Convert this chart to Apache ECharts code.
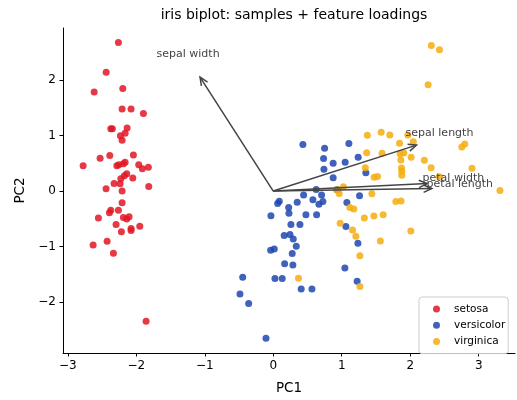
<!DOCTYPE html>
<html>
<head>
    <meta charset="utf-8">
    <script src="https://cdn.jsdelivr.net/npm/echarts@6/dist/echarts.min.js"></script>
    <style>
        html, body { margin: 0; padding: 0; background: #fff; }
    </style>
</head>
<body>
    <div id="main" style="width: 517px;height:400px;"></div>
    <script type="text/javascript">
        // PC scores, one [PC1, PC2] per sample
        var setosa = [
            [-2.261, 2.677], [-2.44, 2.144], [-2.615, 1.788], [-2.197, 1.849], [-2.207, 1.481],
            [-2.076, 1.481], [-1.896, 1.397], [-2.372, 1.125], [-2.349, 1.125], [-2.134, 1.138],
            [-2.163, 1.042], [-2.232, 0.996], [-2.207, 0.917], [-2.528, 0.592], [-2.387, 0.64],
            [-2.042, 0.651], [-2.776, 0.455], [-2.284, 0.455], [-2.255, 0.473], [-2.188, 0.491],
            [-2.163, 0.521], [-1.964, 0.473], [-1.911, 0.402], [-1.824, 0.427], [-2.139, 0.313],
            [-2.174, 0.277], [-2.226, 0.224], [-2.051, 0.236], [-2.324, 0.135], [-2.236, 0.13],
            [-1.818, 0.082], [-2.441, 0.041], [-2.207, 0.0], [-2.207, -0.213], [-2.372, -0.348],
            [-2.392, -0.391], [-2.261, -0.345], [-2.553, -0.487], [-2.188, -0.475], [-2.139, -0.505],
            [-2.105, -0.462], [-2.295, -0.604], [-2.076, -0.676], [-2.076, -0.711], [-1.949, -0.635],
            [-2.217, -0.736], [-2.63, -0.972], [-2.426, -0.907], [-2.334, -1.12], [-1.857, -2.347]
        ];
        var versicolor = [
            [0.433, 0.841], [0.75, 0.77], [1.104, 0.859], [0.735, 0.587], [0.875, 0.503],
            [1.05, 0.521], [1.24, 0.61], [0.74, 0.391], [0.875, 0.242], [1.352, 0.331],
            [0.627, 0.028], [0.706, -0.071], [0.443, -0.071], [0.088, -0.185], [0.064, -0.226],
            [0.35, -0.203], [0.579, -0.155], [0.725, -0.19], [0.667, -0.238], [0.225, -0.297],
            [0.229, -0.398], [-0.034, -0.444], [0.477, -0.427], [0.633, -0.427], [1.075, -0.208],
            [1.26, -0.084], [0.258, -0.604], [0.39, -0.604], [0.16, -0.8], [0.244, -0.782],
            [0.292, -0.866], [1.061, -0.64], [0.336, -0.996], [-0.038, -1.067], [0.015, -1.044],
            [0.277, -1.127], [1.236, -0.942], [0.166, -1.31], [0.287, -1.333], [1.046, -1.387],
            [-0.446, -1.554], [0.025, -1.577], [0.131, -1.577], [1.225, -1.625], [0.408, -1.767],
            [0.565, -1.767], [-0.486, -1.856], [-0.359, -2.027], [-0.106, -2.656], [0.934, 0.028]
        ];
        var virginica = [
            [2.308, 2.624], [2.427, 2.548], [2.261, 1.916], [1.374, 1.006], [1.576, 1.06],
            [1.702, 1.01], [1.965, 1.01], [2.045, 0.889], [1.844, 0.864], [2.753, 0.793],
            [2.797, 0.85], [1.364, 0.69], [1.589, 0.681], [1.853, 0.672], [1.907, 0.686],
            [2.013, 0.61], [1.863, 0.562], [2.206, 0.556], [2.305, 0.418], [2.902, 0.409],
            [1.345, 0.421], [1.473, 0.249], [1.523, 0.263], [1.873, 0.414], [1.877, 0.356],
            [1.877, 0.286], [2.425, 0.258], [1.024, 0.076], [0.925, 0.023], [0.963, -0.043],
            [3.31, 0.011], [1.44, -0.048], [1.79, -0.19], [1.866, -0.181], [1.119, -0.297],
            [1.177, -0.324], [1.33, -0.484], [1.469, -0.452], [1.605, -0.427], [0.977, -0.581],
            [1.158, -0.7], [1.206, -0.816], [2.009, -0.718], [1.564, -0.901], [1.265, -1.168],
            [0.368, -1.572], [1.265, -1.719]
        ];

        // feature loading arrows (tip positions) and where their names sit
        var featureNames = ['sepal length', 'sepal width', 'petal length', 'petal width'];
        var loadings = [[2.092, 0.828], [-1.069, 2.055], [2.315, 0.046], [2.247, 0.135]];
        var labelPos = [[2.427, 1.036], [-1.244, 2.46], [2.724, 0.13], [2.63, 0.236]];

        var tickX = [-3, -2, -1, 0, 1, 2, 3];
        var tickY = [-2, -1, 0, 1, 2];

        var speciesNames = ['setosa', 'versicolor', 'virginica'];
        var speciesColors = ['#e01625', '#1e46af', '#f4ad0e'];
        var font = 'DejaVu Sans';

        function minusFmt(v) {
            return String(v).replace('-', '\u2212');
        }

        var labelData = labelPos.map(function (p, i) { return [p[0], p[1], i]; });

        function axisCommon(ticks) {
            return {
                type: 'value',
                splitLine: {show: false},
                axisLine: {onZero: false, lineStyle: {color: '#000', width: 1}},
                axisTick: {customValues: ticks, length: 3.5, inside: false, lineStyle: {color: '#000', width: 1}},
                axisLabel: {customValues: ticks, formatter: minusFmt, color: '#000', fontSize: 12, fontFamily: font, margin: 7},
                nameLocation: 'middle',
                nameTextStyle: {color: '#000', fontSize: 13.5, fontFamily: font}
            };
        }

        var xAxis = axisCommon(tickX);
        xAxis.min = -3.07;
        xAxis.max = 3.53;
        xAxis.name = 'PC1';
        xAxis.nameGap = 28;

        var yAxis = axisCommon(tickY);
        yAxis.min = -2.92;
        yAxis.max = 2.94;
        yAxis.name = 'PC2';
        yAxis.nameGap = 36;

        var series = [setosa, versicolor, virginica].map(function (d, i) {
            return {
                name: speciesNames[i],
                type: 'scatter',
                data: d,
                symbolSize: 7,
                itemStyle: {color: speciesColors[i], opacity: 0.85},
                z: 2
            };
        });

        series.push({
            type: 'custom',
            name: 'loadings',
            coordinateSystem: 'cartesian2d',
            data: loadings,
            silent: true,
            z: 5,
            renderItem: function (params, api) {
                var p0 = api.coord([0, 0]);
                var p1 = api.coord([api.value(0), api.value(1)]);
                var a = Math.atan2(p1[1] - p0[1], p1[0] - p0[0]);
                var len = 9, w = 0.42;
                var h1 = [p1[0] - len * Math.cos(a - w), p1[1] - len * Math.sin(a - w)];
                var h2 = [p1[0] - len * Math.cos(a + w), p1[1] - len * Math.sin(a + w)];
                return {
                    type: 'group',
                    children: [
                        {type: 'line', shape: {x1: p0[0], y1: p0[1], x2: p1[0], y2: p1[1]},
                         style: {stroke: '#444', lineWidth: 1.5}},
                        {type: 'polyline', shape: {points: [h1, p1, h2]},
                         style: {stroke: '#444', lineWidth: 1.5, fill: null}}
                    ]
                };
            }
        });

        series.push({
            type: 'custom',
            name: 'names',
            coordinateSystem: 'cartesian2d',
            data: labelData,
            silent: true,
            z: 6,
            renderItem: function (params, api) {
                var p = api.coord([api.value(0), api.value(1)]);
                return {
                    type: 'text',
                    x: p[0],
                    y: p[1],
                    style: {
                        text: featureNames[api.value(2)],
                        fill: '#444',
                        font: '11px "DejaVu Sans"',
                        align: 'center',
                        verticalAlign: 'middle'
                    }
                };
            }
        });

        var option = {
            animation: false,
            backgroundColor: '#fff',
            title: {
                text: 'iris biplot: samples + feature loadings',
                left: 289,
                top: 3,
                textAlign: 'center',
                textStyle: {color: '#000', fontSize: 14, fontWeight: 'normal', fontFamily: font}
            },
            legend: {
                data: speciesNames,
                orient: 'vertical',
                left: 419,
                top: 297,
                icon: 'circle',
                itemWidth: 7,
                itemHeight: 7,
                itemGap: 2.3,
                padding: [5, 3, 5, 14],
                borderColor: '#ccc',
                borderWidth: 1,
                borderRadius: 3,
                backgroundColor: 'rgba(255,255,255,0.8)',
                textStyle: {color: '#000', fontSize: 10.5, fontFamily: font, lineHeight: 14, padding: [0, 0, 0, 9]}
            },
            grid: {
                left: 63,
                right: 2,
                top: 28,
                bottom: 43,
                containLabel: false
            },
            xAxis: xAxis,
            yAxis: yAxis,
            series: series
        };

        var myChart = echarts.init(document.getElementById('main'));
        myChart.setOption(option);
    </script>
</body>
</html>
